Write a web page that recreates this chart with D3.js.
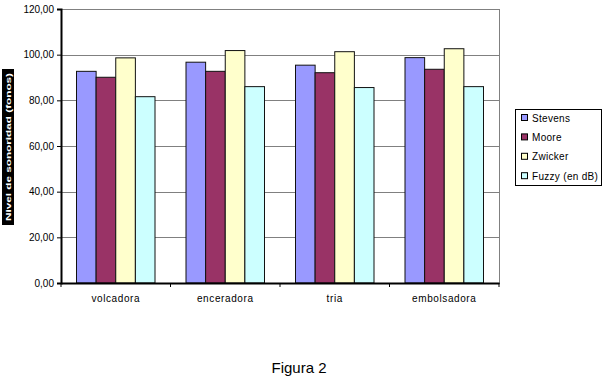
<!DOCTYPE html>
<html>
<head>
<meta charset="utf-8">
<script src="https://cdn.jsdelivr.net/npm/d3@7"></script>
<style>
  body { margin: 0; background: #fff; }
  text { font-family: "Liberation Sans", Arial, sans-serif; }
</style>
</head>
<body>
<div id="chart"></div>
<script>
  var categories = ["volcadora", "enceradora", "tria", "embolsadora"];
  var seriesNames = ["Stevens", "Moore", "Zwicker", "Fuzzy (en dB)"];
  var stevens = [92.7, 96.7, 95.4, 98.7];
  var moore = [90.1, 92.7, 92.1, 93.6];
  var zwicker = [98.6, 101.8, 101.3, 102.6];
  var fuzzy = [81.6, 86.0, 85.6, 86.0];
  var yTicks = [0, 20, 40, 60, 80, 100, 120];
  var colors = ["#9999ff", "#993366", "#ffffcc", "#ccffff"];

  (function () {
    var series = [stevens, moore, zwicker, fuzzy];

    var width = 608, height = 378;
    // plot area edges (note: "top" would clash with window.top)
    var pLeft = 61, pRight = 499, pTop = 9, pBottom = 283;

    var svg = d3.select("#chart").append("svg")
        .attr("width", width)
        .attr("height", height);

    var x0 = d3.scaleBand().domain(categories).range([pLeft, pRight]);
    var x1 = d3.scaleBand().domain(d3.range(seriesNames.length))
        .range([15.5, x0.bandwidth() - 15.5]);
    var y = d3.scaleLinear().domain([0, 120]).range([pBottom, pTop]);

    // plot border + gridlines
    svg.append("rect")
      .attr("x", pLeft + 0.5).attr("y", pTop + 0.5)
      .attr("width", pRight - pLeft).attr("height", pBottom - pTop)
      .attr("fill", "#fff").attr("stroke", "#808080");

    svg.selectAll("line.grid")
      .data(yTicks.slice(1))
      .enter().append("line")
        .attr("class", "grid")
        .attr("x1", pLeft).attr("x2", pRight)
        .attr("y1", function(d){ return Math.round(y(d)) + 0.5; })
        .attr("y2", function(d){ return Math.round(y(d)) + 0.5; })
        .attr("stroke", "#808080");

    // bars
    var groups = svg.selectAll("g.cat")
      .data(categories)
      .enter().append("g")
        .attr("class", "cat")
        .attr("transform", function(d){ return "translate(" + x0(d) + ",0)"; });

    groups.selectAll("rect")
      .data(function(d, i){ return series.map(function(s, j){ return {j: j, v: s[i]}; }); })
      .enter().append("rect")
        .attr("x", function(d){ return x1(d.j); })
        .attr("width", x1.bandwidth())
        .attr("y", function(d){ return y(d.v); })
        .attr("height", function(d){ return pBottom - y(d.v); })
        .attr("fill", function(d){ return colors[d.j]; })
        .attr("stroke", "#111")
        .attr("stroke-width", 1);

    // y axis
    var yAxis = d3.axisLeft(y)
        .tickValues(yTicks)
        .tickSize(4)
        .tickFormat(function(d){ return d3.format(".2f")(d).replace(".", ","); });
    var gy = svg.append("g")
        .attr("transform", "translate(" + pLeft + ",0)")
        .call(yAxis);
    gy.select(".domain").attr("stroke", "#000").attr("stroke-width", 2);
    gy.selectAll(".tick line").attr("stroke", "#000");
    gy.selectAll(".tick text")
        .attr("x", -7)
        .attr("font-size", 10)
        .attr("font-family", "Liberation Sans, Arial, sans-serif")
        .attr("fill", "#000");

    // x axis
    var xAxis = d3.axisBottom(x0).tickSize(0).tickSizeOuter(0);
    var gx = svg.append("g")
        .attr("transform", "translate(0," + pBottom + ")")
        .call(xAxis);
    gx.select(".domain").attr("stroke", "#000").attr("stroke-width", 2);
    gx.selectAll(".tick text")
        .attr("y", 12)
        .attr("font-size", 10)
        .attr("letter-spacing", 0.6)
        .attr("font-family", "Liberation Sans, Arial, sans-serif")
        .attr("fill", "#000");
    gx.selectAll("line.sep")
      .data(categories.map(function(c){ return x0(c); }).concat([pRight]))
      .enter().append("line")
        .attr("class", "sep")
        .attr("x1", function(d){ return d; }).attr("x2", function(d){ return d; })
        .attr("y1", 0).attr("y2", 4)
        .attr("stroke", "#000");

    // y axis title (rendered as a dark strip)
    var yt = svg.append("g").attr("transform", "translate(8,147) rotate(-90)");
    yt.append("rect")
      .attr("x", -78).attr("y", -6).attr("width", 156).attr("height", 12)
      .attr("fill", "#000");
    yt.append("text")
      .attr("text-anchor", "middle").attr("dy", "0.35em")
      .attr("font-size", 8).attr("font-weight", "bold")
      .attr("fill", "#fff")
      .attr("textLength", 148).attr("lengthAdjust", "spacingAndGlyphs")
      .text("Nivel de sonoridad (fonos)");

    // legend
    var legend = svg.append("g");
    legend.append("rect")
      .attr("x", 515.5).attr("y", 109.5).attr("width", 86).attr("height", 76)
      .attr("fill", "#fff").attr("stroke", "#000");
    var item = legend.selectAll("g.item")
      .data(seriesNames)
      .enter().append("g")
        .attr("class", "item")
        .attr("transform", function(d, i){ return "translate(521," + (118 + i * 19.4) + ")"; });
    item.append("rect")
      .attr("x", 0.5).attr("y", -3.5).attr("width", 6).attr("height", 6)
      .attr("fill", function(d, i){ return colors[i]; })
      .attr("stroke", "#000");
    item.append("text")
      .attr("x", 11).attr("dy", "0.35em")
      .attr("font-size", 10)
      .attr("letter-spacing", 0.3)
      .text(function(d){ return d; });

    // caption
    svg.append("text")
      .attr("x", 299).attr("y", 373)
      .attr("text-anchor", "middle")
      .attr("font-size", 15)
      .text("Figura 2");
  }());
</script>
</body>
</html>
